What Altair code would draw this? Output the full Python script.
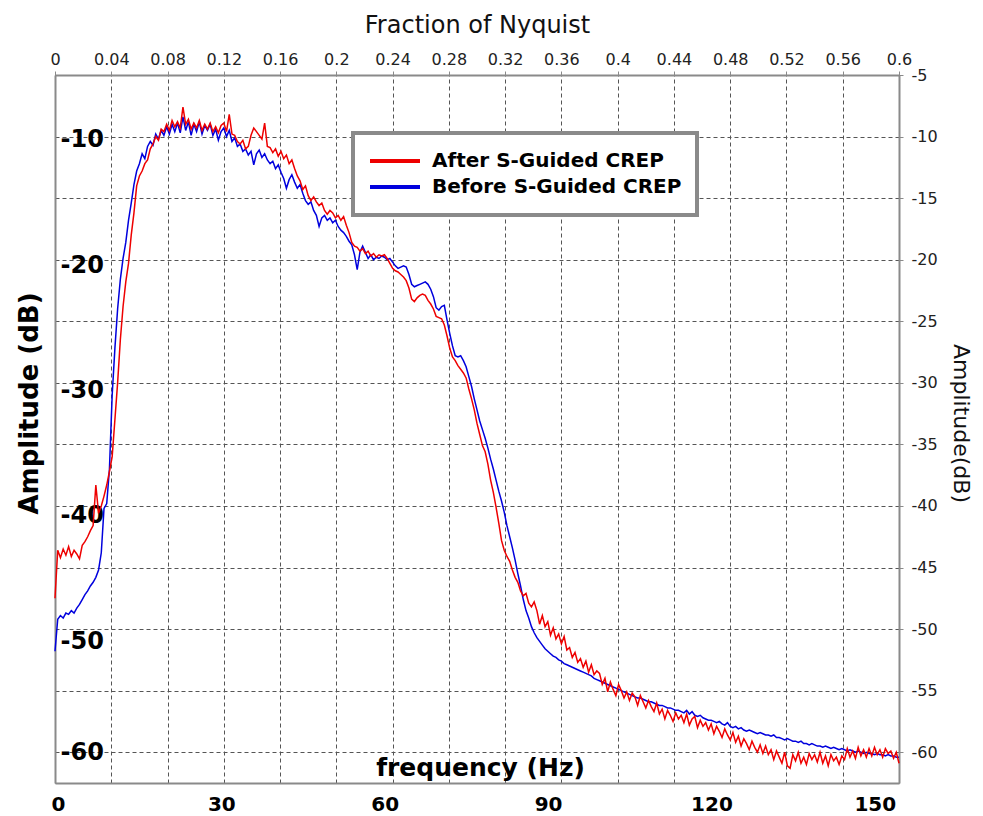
import altair as alt
import pandas as pd

# ---------------- data ----------------
NYQUIST_HZ = 258.3333
freq_step = 0.5
n_points = 311  # 0 .. 155 Hz

after_db = [
    -47.5, -43.6, -44.2, -43.5, -44.0, -43.3, -44.1, -43.6, -43.9, -44.3,
    -43.2, -42.9, -42.5, -42.0, -41.6, -38.3, -40.6, -40.0, -39.2, -38.3,
    -37.2, -36.0, -33.0, -30.0, -26.5, -23.8, -21.8, -20.3, -18.0, -16.2,
    -14.0, -13.2, -12.8, -12.2, -11.9, -11.0, -10.6, -10.0, -10.3, -9.4,
    -9.6, -9.0, -9.5, -8.7, -9.2, -8.8, -9.3, -7.6, -9.0, -8.6,
    -9.4, -8.9, -9.3, -8.7, -9.5, -9.0, -9.4, -8.9, -9.6, -9.2,
    -9.7, -9.1, -8.9, -9.6, -8.2, -9.8, -9.9, -10.4, -10.6, -10.3,
    -11.0, -10.8, -9.9, -9.3, -9.6, -9.9, -10.2, -8.9, -10.8, -10.9,
    -11.3, -11.0, -11.6, -11.2, -11.8, -11.5, -12.2, -11.9, -12.6, -13.2,
    -13.6, -14.3, -14.0, -14.8, -15.2, -14.9, -15.3, -15.6, -15.4, -16.0,
    -16.3, -16.0, -16.2, -16.6, -16.4, -16.8, -16.5, -17.2, -17.8, -18.6,
    -18.9, -19.0, -19.3, -19.1, -19.5, -19.3, -19.7, -19.5, -19.8, -19.6,
    -19.7, -19.6, -19.9, -20.3, -20.7, -20.9, -21.0, -21.2, -21.4, -21.7,
    -22.3, -23.2, -23.4, -23.1, -22.9, -22.8, -22.9, -23.3, -23.6, -24.0,
    -24.6, -24.7, -24.8, -25.3, -26.2, -27.2, -27.9, -28.2, -28.6, -28.9,
    -29.2, -29.6, -30.5, -31.3, -32.2, -33.3, -34.2, -35.1, -35.6, -36.6,
    -37.9, -38.9, -40.1, -41.4, -42.8, -43.6, -44.1, -44.5, -45.2, -45.8,
    -46.2, -46.9, -47.3, -47.1, -47.9, -48.2, -47.8, -48.5, -49.6, -48.9,
    -49.8, -49.4, -50.5, -49.9, -50.8, -50.4, -51.2, -50.6, -51.7, -51.5,
    -52.3, -51.9, -52.7, -52.4, -53.1, -52.6, -53.5, -52.9, -53.7, -53.4,
    -53.6, -54.5, -54.0, -55.1, -54.3, -54.9, -55.4, -54.5, -55.0, -55.6,
    -55.1, -55.8, -55.2, -55.5, -56.2, -55.4, -55.9, -56.4, -55.8, -56.3,
    -56.7, -56.0, -56.9, -56.5, -57.3, -56.6, -57.0, -57.5, -56.8, -57.3,
    -57.0, -57.6, -56.9, -57.8, -57.3, -57.1, -58.0, -57.4, -57.9, -57.6,
    -58.2, -57.7, -58.5, -57.9, -58.3, -58.8, -58.1, -58.6, -59.0, -58.4,
    -59.2, -58.7, -59.5, -58.9, -59.3, -59.8, -59.1, -59.6, -60.0, -59.4,
    -60.1, -59.5, -60.2, -59.8, -60.6, -59.9, -60.4, -60.9, -60.0, -61.1,
    -61.3, -60.2, -60.7, -60.0, -60.9, -60.4, -61.0, -60.1, -60.6, -60.2,
    -60.8, -60.0, -60.9, -60.3, -61.1, -60.2, -60.7, -60.4, -61.0, -60.3,
    -60.6, -59.7, -60.4, -59.9, -60.5, -59.6, -60.3, -59.8, -60.4, -59.7,
    -60.3, -59.6, -60.2, -59.8, -60.4, -59.7, -60.1, -59.9, -60.5, -60.0,
    -60.9,
]

before_db = [
    -51.8, -49.2, -48.9, -49.1, -48.7, -48.8, -48.5, -48.7, -48.3, -48.0,
    -47.6, -47.2, -46.9, -46.5, -46.2, -45.8, -45.2, -43.8, -40.2, -39.8,
    -37.0, -31.0, -27.2, -24.0, -21.6, -19.9, -18.6, -16.8, -15.4, -13.9,
    -12.8, -12.2, -11.4, -11.8, -10.8, -10.4, -10.7, -9.8, -10.2, -9.5,
    -9.9, -9.2, -9.8, -9.0, -9.6, -8.9, -9.7, -8.4, -9.5, -8.8,
    -9.9, -9.0, -9.6, -8.8, -9.8, -9.1, -9.5, -9.0, -9.9, -9.4,
    -10.3, -9.6, -9.3, -10.0, -9.5, -10.4, -10.1, -10.8, -10.6, -11.2,
    -11.0, -11.5, -11.2, -12.3, -11.4, -11.1, -11.7, -11.4, -11.9, -12.2,
    -12.0, -12.6, -12.3, -12.9, -13.4, -14.2, -13.5, -13.1, -13.7, -14.2,
    -13.9, -14.6, -15.2, -15.5, -15.3, -16.0, -16.4, -17.3, -16.6, -16.4,
    -16.8, -16.6, -17.0, -16.8, -17.3, -17.6, -17.8, -18.1, -18.5, -18.8,
    -19.6, -20.8, -19.4, -18.9, -19.4, -19.9, -19.6, -20.0, -19.8, -19.9,
    -19.7, -19.8, -20.0, -19.9, -20.2, -20.5, -20.7, -20.6, -20.5, -20.6,
    -21.2, -22.0, -22.2, -22.1, -22.0, -21.9, -21.8, -22.0, -22.4, -23.0,
    -23.9, -24.1, -23.8, -23.7, -24.9, -26.0, -27.0, -27.8, -27.9, -27.8,
    -28.2, -28.7, -29.5, -30.3, -31.3, -32.2, -33.1, -33.8, -34.5, -35.3,
    -36.2, -37.0, -37.9, -38.8, -39.6, -40.5, -41.6, -42.5, -43.4, -44.4,
    -45.5, -46.5, -47.6, -48.5, -49.1, -49.8, -50.3, -50.7, -51.0, -51.3,
    -51.6, -51.8, -52.0, -52.2, -52.3, -52.5, -52.6, -52.8, -52.9, -53.0,
    -53.1, -53.2, -53.3, -53.4, -53.5, -53.6, -53.7, -53.8, -54.0, -54.1,
    -54.2, -54.3, -54.4, -54.5, -54.6, -54.7, -54.8, -54.9, -55.0, -55.1,
    -55.2, -55.3, -55.4, -55.5, -55.6, -55.6, -55.7, -55.8, -55.9, -55.9,
    -56.0, -56.1, -56.2, -56.2, -56.3, -56.4, -56.4, -56.5, -56.6, -56.6,
    -56.7, -56.8, -56.6, -56.9, -56.7, -57.0, -57.1, -57.0, -57.2, -57.3,
    -57.4, -57.4, -57.5, -57.6, -57.5, -57.7, -57.8, -57.6, -57.9, -58.0,
    -57.9, -58.1, -58.0, -58.2, -58.3, -58.2, -58.3, -58.4, -58.5, -58.4,
    -58.5, -58.6, -58.6, -58.7, -58.6, -58.8, -58.8, -58.9, -59.0, -58.9,
    -59.0, -59.1, -59.1, -59.2, -59.1, -59.3, -59.3, -59.4, -59.3, -59.4,
    -59.5, -59.5, -59.6, -59.5, -59.6, -59.7, -59.6, -59.7, -59.8, -59.7,
    -59.8, -59.9, -59.8, -59.9, -60.0, -59.9, -60.0, -60.1, -60.0, -60.1,
    -60.1, -60.2, -60.1, -60.2, -60.2, -60.3, -60.2, -60.3, -60.3, -60.4,
    -60.4,
]

series_names = ["After S-Guided CREP", "Before S-Guided CREP"]
series_colors = ["#ee0000", "#0000dd"]

nyquist_fracs = [0, 0.04, 0.08, 0.12, 0.16, 0.2, 0.24, 0.28, 0.32, 0.36,
                 0.4, 0.44, 0.48, 0.52, 0.56, 0.6]
freq_ticks = [0, 30, 60, 90, 120, 150]
left_ticks = [-10, -20, -30, -40, -50, -60]
right_ticks = [-5, -10, -15, -20, -25, -30, -35, -40, -45, -50, -55, -60]

# ---------------- tables ----------------
freq = [i * freq_step for i in range(n_points)]
df_after = pd.DataFrame({"freq": freq, "amp": after_db, "series": series_names[0]})
df_before = pd.DataFrame({"freq": freq, "amp": before_db, "series": series_names[1]})
top_tick_hz = [f * NYQUIST_HZ for f in nyquist_fracs]

FONT = "DejaVu Sans"
x_scale = alt.Scale(domain=[0, 155], nice=False, zero=False)
y_scale = alt.Scale(domain=[-62.5, -5], nice=False, zero=False)
color_scale = alt.Scale(domain=series_names, range=series_colors)

legend = alt.Legend(
    title=None, orient="none", legendX=298, legendY=58,
    symbolType="stroke", symbolSize=2500, symbolStrokeWidth=4,
    labelFontSize=20, labelFontWeight="bold", labelFont=FONT, labelColor="black",
    labelLimit=600, labelOffset=10, padding=15, rowPadding=0, clipHeight=26,
    strokeColor="#8a8a8a", fillColor="white",
)

grid_color = "#555555"
domain_color = "#8a8a8a"

# invisible layer that carries the top (Nyquist) and right axes with the grid
guide_layer = alt.Chart(df_after).mark_line(strokeOpacity=0).encode(
    x=alt.X("freq:Q", scale=x_scale, axis=alt.Axis(
        orient="top", values=top_tick_hz,
        labelExpr="format(datum.value / 258.3333, '.2~f')",
        grid=True, gridColor=grid_color, gridDash=[4, 3], gridWidth=1,
        ticks=True, tickSize=4, tickColor=domain_color,
        domainColor=domain_color, domainWidth=2,
        labelFontSize=16, labelColor="#222222", labelPadding=4, labelFlush=False,
        labelFont=FONT,
        title="Fraction of Nyquist", titleFont=FONT, titleFontSize=24,
        titleFontWeight="normal", titleColor="#111111",
        titleBaseline="alphabetic", titleY=-43,
    )),
    y=alt.Y("amp:Q", scale=y_scale, axis=alt.Axis(
        orient="right", values=right_ticks, labelExpr="'' + datum.value",
        grid=True, gridColor=grid_color, gridDash=[4, 3], gridWidth=1,
        ticks=True, tickSize=4, tickColor=domain_color,
        domainColor=domain_color, domainWidth=2,
        labelFontSize=16, labelColor="#222222", labelPadding=8, labelFont=FONT,
        title="Amplitude(dB)", titleFont=FONT, titleFontSize=22,
        titleFontWeight="normal", titleColor="#111111", titleAngle=90,
        titleX=61, titleY=348, titleBaseline="middle", titleAlign="center",
    )),
)

before_layer = alt.Chart(df_before).mark_line(strokeWidth=1.5).encode(
    x=alt.X("freq:Q", scale=x_scale, axis=alt.Axis(
        orient="bottom", values=freq_ticks, grid=False, ticks=False, tickSize=0,
        domainColor=domain_color, domainWidth=2,
        labelFontSize=20, labelFontWeight="bold", labelColor="black",
        labelPadding=11, labelOffset=3, labelFlush=False, labelFont=FONT,
        title="frequency (Hz)", titleFont=FONT, titleFontSize=25,
        titleFontWeight="bold", titleColor="black",
        titleX=425, titleY=-8, titleBaseline="alphabetic", titleAlign="center",
    )),
    y=alt.Y("amp:Q", scale=y_scale, axis=alt.Axis(
        orient="left", values=left_ticks, labelExpr="'' + datum.value",
        grid=False, ticks=False, tickSize=0,
        domainColor=domain_color, domainWidth=2,
        labelAlign="left", labelPadding=-5, labelFontSize=24,
        labelFontWeight="bold", labelColor="black", labelFont=FONT,
        labelOffset={"condition": [
            {"test": "datum.value == -60", "value": 0},
            {"test": "datum.value == -10", "value": 3},
            {"test": "datum.value == -20", "value": 6},
            {"test": "datum.value == -30", "value": 8},
            {"test": "datum.value == -50", "value": 12},
        ], "value": 10},
        title="Amplitude (dB)", titleFont=FONT, titleFontSize=26,
        titleFontWeight="bold", titleColor="black", titleAngle=270,
        titleX=-26, titleY=328, titleBaseline="middle", titleAlign="center",
    )),
    color=alt.Color("series:N", scale=color_scale, legend=legend),
)

after_layer = alt.Chart(df_after).mark_line(strokeWidth=1.5).encode(
    x=alt.X("freq:Q", scale=x_scale, axis=None),
    y=alt.Y("amp:Q", scale=y_scale, axis=None),
    color=alt.Color("series:N", scale=color_scale, legend=legend),
)

chart = (
    alt.layer(guide_layer, before_layer, after_layer)
    .resolve_axis(x="independent", y="independent")
    .properties(
        width=844, height=708,
        autosize=alt.AutoSizeParams(type="none"),
        padding={"left": 47, "top": 67, "right": 76, "bottom": 33},
        background="white",
    )
    .configure_view(stroke=None)
    .configure_legend(strokeWidth=4)
)

chart.save("out.html", embed_options={"renderer": "svg", "actions": False})
